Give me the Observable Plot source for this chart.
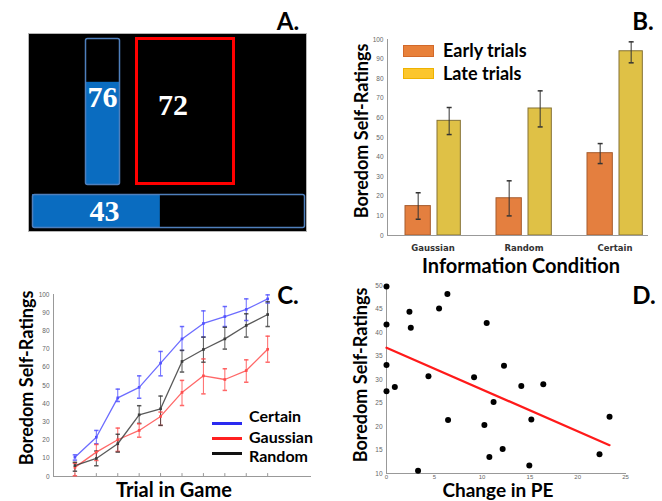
<!DOCTYPE html>
<html><head><meta charset="utf-8">
<script src="https://cdn.jsdelivr.net/npm/d3@7"></script>
<script src="https://cdn.jsdelivr.net/npm/@observablehq/plot@0.6"></script>
<style>
body{margin:0;background:#fff;}
#fig{position:relative;width:662px;height:501px;overflow:hidden;font-family:Lato,"Open Sans",sans-serif;}
.abs{position:absolute;}
.lbl{position:absolute;white-space:nowrap;font-weight:700;color:#000;line-height:1;}
</style></head><body><div id="fig"></div>
<script>
// ---------- Panel A (schematic) ----------
const meterLabels = ["76", "43"];
const meterFill = [70, 47];
const boxLabel = ["72"];

// ---------- Panel B ----------
const conditions = ["Gaussian", "Random", "Certain"];
const periods = ["Early trials", "Late trials"];
const earlyMean = [15, 19, 42];
const earlyLo = [8.3, 10, 36.7];
const earlyHi = [21.8, 27.9, 46.9];
const lateMean = [58.5, 64.8, 94];
const lateLo = [51.5, 55.4, 88.1];
const lateHi = [65.3, 73.8, 98.8];
const bTicks = [0, 10, 20, 30, 40, 50, 60, 70, 80, 90, 100];

// ---------- Panel C ----------
const trials = [1, 2, 3, 4, 5, 6, 7, 8, 9, 10];
const seriesNames = ["Certain", "Gaussian", "Random"];
const certainMean = [10.6, 21.6, 43.2, 49, 62.3, 75.6, 84.1, 87.9, 91.8, 97.6];
const certainLo = [9, 18, 41.2, 43, 55.3, 69.3, 76.6, 82.4, 85.7, 95.3];
const certainHi = [11.9, 25.3, 48, 55.3, 68.7, 82.4, 91, 93.4, 97.6, 99.8];
const gaussianMean = [5, 13.4, 20.2, 25.3, 33, 46.2, 55.3, 53.3, 58.2, 69.9];
const gaussianLo = [0.4, 8.8, 13.8, 21.6, 28.1, 39, 45.4, 47.3, 51.8, 62.8];
const gaussianHi = [7.3, 17.6, 26.6, 29, 35.4, 52.8, 64.6, 59.2, 64.1, 77.1];
const randomMean = [6, 9.9, 18, 33.9, 37.2, 63.2, 69.8, 75.6, 83, 89];
const randomLo = [2.9, 5.9, 13.4, 29.2, 28.1, 57.4, 62.8, 70, 76.6, 82.4];
const randomHi = [7.8, 14, 23.2, 38.9, 44.2, 69.3, 76.6, 82, 89.4, 96];
const cTicks = [0, 10, 20, 30, 40, 50, 60, 70, 80, 90, 100];

// ---------- Panel D ----------
const peChange = [0, 0, 0, 0, 0.87, 2.4, 2.54, 3.3, 4.39, 5.5, 6.37, 6.44, 9.16, 10.24, 10.48, 10.76, 11.2, 12.15, 12.29, 14.1, 14.94, 15.15, 16.4, 22.28, 23.33];
const boredom = [49.8, 41.7, 33.1, 27.5, 28.4, 44.4, 41.0, 10.6, 30.7, 45.1, 48.2, 21.4, 30.5, 20.3, 42.0, 13.5, 25.2, 15.2, 32.9, 28.6, 11.7, 21.5, 29.0, 14.1, 22.1];
const dYTicks = [10, 15, 20, 25, 30, 35, 40, 45, 50];
const dXTicks = [0, 5, 10, 15, 20, 25];

// ---------- build ----------
const fig = document.getElementById("fig");
function place(el, left, top) {
  el.classList.add("abs");
  el.style.left = left + "px"; el.style.top = top + "px";
  fig.appendChild(el);
  return el;
}
function label(text, cx, cy, size, opts = {}) {
  const d = document.createElement("div");
  d.className = "lbl";
  d.textContent = text;
  d.style.fontSize = size + "px";
  if (opts.lh) d.style.lineHeight = opts.lh;
  if (opts.family) d.style.fontFamily = opts.family;
  if (opts.color) d.style.color = opts.color;
  d.style.left = cx + "px"; d.style.top = cy + "px";
  d.style.transform = "translate(-50%,-50%)" + (opts.rotate ? " rotate(" + opts.rotate + "deg)" : "");
  fig.appendChild(d);
  return d;
}
const clear = {background: "transparent", overflow: "visible"};
const capSymbol = {draw(ctx, size) { const w = Math.sqrt(size / Math.PI); ctx.moveTo(-w, 0); ctx.lineTo(w, 0); }};
const tickFont = "Liberation Sans";

// Panel A
const bg = document.createElement("div");
bg.style.cssText = "width:279px;height:199px;background:#000;border:1px solid #b5b5b5;box-sizing:border-box;";
place(bg, 28, 33);
const vMeter = {label: meterLabels[0], fill: meterFill[0]};
const hMeter = {label: meterLabels[1], fill: meterFill[1]};
place(Plot.plot({
  width: 34, height: 146, margin: 0, style: clear,
  x: {axis: null}, y: {domain: [0, 100], axis: null},
  marks: [
    Plot.barY([vMeter], {y: "fill", fill: "#0a6cc0"}),
    Plot.frame({stroke: "#4f7fbc", strokeWidth: 1.5, rx: 2}),
    Plot.text([vMeter], {y: "fill", text: "label", dy: 15, fill: "#fff", fontSize: 30, fontWeight: "bold", fontFamily: "Liberation Serif"})
  ]
}), 85, 38);
place(Plot.plot({
  width: 97, height: 145, margin: 0, style: clear,
  marks: [
    Plot.frame({stroke: "#ff0000", strokeWidth: 3}),
    Plot.text(boxLabel, {text: d => d, frameAnchor: "top", dx: -12, dy: 55, fill: "#fff", fontSize: 30, fontWeight: "bold", fontFamily: "Liberation Serif"})
  ]
}), 136, 38);
place(Plot.plot({
  width: 272, height: 33, margin: 0, style: clear,
  x: {domain: [0, 100], axis: null}, y: {axis: null},
  marks: [
    Plot.barX([hMeter], {x: "fill", fill: "#0a6cc0"}),
    Plot.frame({stroke: "#4f7fbc", strokeWidth: 1.5, rx: 2}),
    Plot.text([hMeter], {x: d => d.fill / 2, text: "label", dx: 8, fill: "#fff", fontSize: 30, fontWeight: "bold", fontFamily: "Liberation Serif"})
  ]
}), 32, 194);
label("A.", 288, 21, 24);

// Panel B
const early = conditions.map((c, i) => ({condition: c, period: periods[0], mean: earlyMean[i], lo: earlyLo[i], hi: earlyHi[i]}));
const late = conditions.map((c, i) => ({condition: c, period: periods[1], mean: lateMean[i], lo: lateLo[i], hi: lateHi[i]}));
const errMarks = (rows, dx) => [
  Plot.ruleX(rows, {x: "condition", y1: "lo", y2: "hi", dx, stroke: "#333", strokeWidth: 1}),
  Plot.dot(rows, {x: "condition", y: "lo", dx, symbol: capSymbol, r: 2.5, fill: "none", stroke: "#333"}),
  Plot.dot(rows, {x: "condition", y: "hi", dx, symbol: capSymbol, r: 2.5, fill: "none", stroke: "#333"})
];
place(Plot.plot({
  width: 662, height: 501, marginLeft: 387, marginRight: 14, marginTop: 39, marginBottom: 266, style: clear,
  x: {domain: conditions, range: [386, 661], padding: 0},
  y: {domain: [0, 100]},
  marks: [
    Plot.barY(early, {x: "condition", y: "mean", fill: "#e47f3f", stroke: "#a65c2e", strokeWidth: 1, insetLeft: 18, insetRight: 47.67}),
    Plot.barY(late, {x: "condition", y: "mean", fill: "#dfc146", stroke: "#857235", strokeWidth: 1, insetLeft: 50, insetRight: 17.67}),
    ...errMarks(early, -14.83),
    ...errMarks(late, 16.17),
    Plot.frame({anchor: "left", stroke: "#999"}),
    Plot.ruleY([0], {stroke: "#999"}),
    Plot.axisY({ticks: bTicks, tickSize: 0, tickPadding: 4, fontSize: 6.5, fill: "#666", fontFamily: tickFont, label: null}),
    Plot.axisX({tickSize: 0, tickPadding: 9, fontSize: 8.5, fontWeight: "bold", fill: "#333", fontFamily: "DejaVu Sans", label: null})
  ]
}), 0, 0);
// legend B
const legB = [["#e8813a", "#d2692a", 45, 12, 50], ["#fcc62c", "#eeb200", 68, 11, 73]];
periods.forEach((p, i) => {
  const [fill, stroke, top, h, cy] = legB[i];
  const box = document.createElement("div");
  box.style.cssText = `width:31px;height:${h}px;background:${fill};border:1px solid ${stroke};box-sizing:border-box;`;
  place(box, 403, top);
  const t = label(p, 0, cy, 18);
  t.style.left = "443px"; t.style.transform = "translate(0,-50%)";
});
label("Boredom Self-Ratings", 361, 131, 18, {rotate: -90});
label("Information Condition", 521, 265, 20, {lh: 0.85});
label("B.", 643, 21, 24);

// Panel C
const cMeans = [certainMean, gaussianMean, randomMean];
const cLos = [certainLo, gaussianLo, randomLo];
const cHis = [certainHi, gaussianHi, randomHi];
const cRows = seriesNames.flatMap((s, k) => trials.map((t, i) => ({series: s, trial: t, mean: cMeans[k][i], lo: cLos[k][i], hi: cHis[k][i]})));
const cColors = ["#5252ff", "#ff4d4d", "#3c3c3c"];
place(Plot.plot({
  width: 662, height: 501, marginLeft: 53, marginRight: 352, marginTop: 294, marginBottom: 25, style: clear,
  x: {domain: [0, 12], axis: null},
  y: {domain: [0, 100]},
  color: {domain: seriesNames, range: cColors},
  marks: [
    Plot.frame({anchor: "left", stroke: "#999"}),
    Plot.frame({anchor: "bottom", stroke: "#999"}),
    Plot.ruleX(trials, {x: d => d, y1: 0, y2: 1.6, stroke: "#999"}),
    Plot.axisY({ticks: cTicks, tickSize: 0, tickPadding: 4, fontSize: 6.5, fill: "#666", fontFamily: tickFont, label: null}),
    Plot.ruleX(cRows, {x: "trial", y1: "lo", y2: "hi", stroke: "series", strokeWidth: 1, strokeOpacity: 0.85}),
    Plot.dot(cRows, {x: "trial", y: "lo", symbol: capSymbol, r: 2.2, fill: "none", stroke: "series", strokeOpacity: 0.85}),
    Plot.dot(cRows, {x: "trial", y: "hi", symbol: capSymbol, r: 2.2, fill: "none", stroke: "series", strokeOpacity: 0.85}),
    Plot.line(cRows, {x: "trial", y: "mean", z: "series", stroke: "series", strokeWidth: 1.3, strokeOpacity: 0.85}),
    Plot.dot(cRows, {x: "trial", y: "mean", symbol: "square", r: 1.5, fill: "series", stroke: null})
  ]
}), 0, 0);
const legCy = [[423, 416], [438, 437], [453, 456]];
seriesNames.forEach((s, k) => {
  const ln = document.createElement("div");
  ln.style.cssText = `width:30px;height:3px;background:${["#2a2af0", "#ff2020", "#111"][k]};`;
  place(ln, 212, legCy[k][0] - 1.5);
  const t = label(s, 0, legCy[k][1], 16);
  t.style.left = "249px"; t.style.transform = "translate(0,-50%)";
});
label("Boredom Self-Ratings", 26, 378, 18, {rotate: -90});
label("Trial in Game", 174, 489, 20, {lh: 0.8});
label("C.", 288, 295, 24);

// Panel D
const points = peChange.map((x, i) => ({pe: x, boredom: boredom[i]}));
place(Plot.plot({
  width: 662, height: 501, marginLeft: 386, marginRight: 37, marginTop: 285, marginBottom: 28, style: clear,
  x: {domain: [0, 25]},
  y: {domain: [10, 50]},
  marks: [
    Plot.frame({anchor: "left", stroke: "#999"}),
    Plot.frame({anchor: "bottom", stroke: "#999"}),
    Plot.axisY({ticks: dYTicks, tickSize: 0, tickPadding: 4, fontSize: 6.5, fill: "#666", fontFamily: tickFont, label: null}),
    Plot.axisX({ticks: dXTicks, tickSize: 0, tickPadding: 1, fontSize: 6, fill: "#666", fontFamily: tickFont, label: null}),
    Plot.dot(points, {x: "pe", y: "boredom", r: 3, fill: "#000"}),
    Plot.linearRegressionY(points, {x: "pe", y: "boredom", stroke: "#ff1a1a", strokeWidth: 2.2, ci: 0})
  ]
}), 0, 0);
label("Boredom Self-Ratings", 360, 375, 18, {rotate: -90});
label("Change in PE", 498, 490, 19, {lh: 0.8});
label("D.", 644, 295, 24);
</script></body></html>
